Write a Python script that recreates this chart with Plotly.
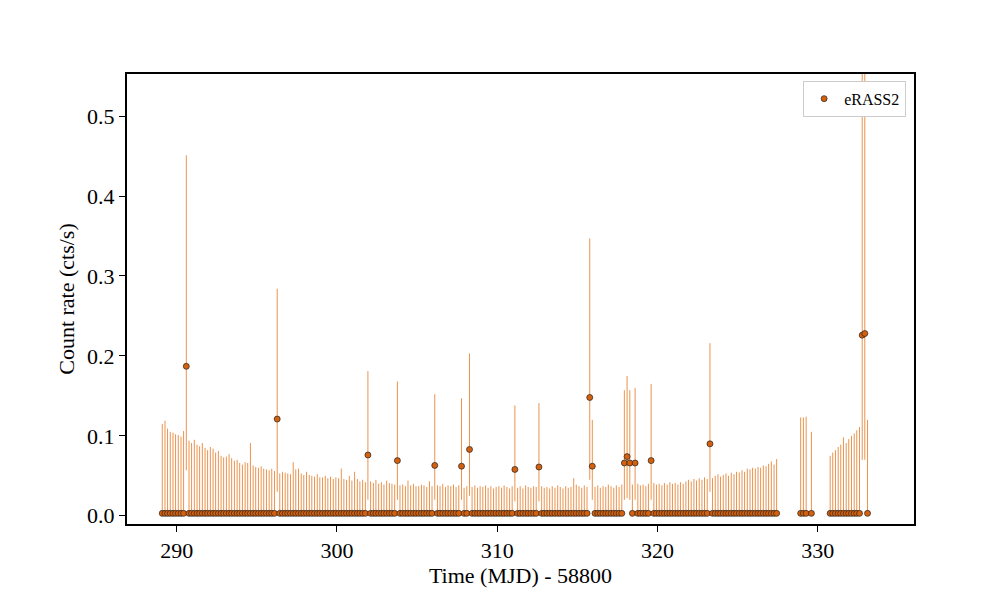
import plotly.graph_objects as go

# --- data: eRASS2 light curve (count rate, asymmetric errors) ---
# background scans (rate at floor, upper error only), 6 scans per day
scan_time = [
    289.10, 289.27, 289.43, 289.60, 289.77, 289.93, 290.10, 290.27, 290.43, 290.60, 290.77, 290.93,
    291.10, 291.27, 291.43, 291.60, 291.77, 291.93, 292.10, 292.27, 292.43, 292.60, 292.77, 292.93,
    293.10, 293.27, 293.43, 293.60, 293.77, 293.93, 294.10, 294.27, 294.43, 294.60, 294.77, 294.93,
    295.10, 295.27, 295.43, 295.60, 295.77, 295.93, 296.10, 296.27, 296.43, 296.60, 296.77, 296.93,
    297.10, 297.27, 297.43, 297.60, 297.77, 297.93, 298.10, 298.27, 298.43, 298.60, 298.77, 298.93,
    299.10, 299.27, 299.43, 299.60, 299.77, 299.93, 300.10, 300.27, 300.43, 300.60, 300.77, 300.93,
    301.10, 301.27, 301.43, 301.60, 301.77, 301.93, 302.10, 302.27, 302.43, 302.60, 302.77, 302.93,
    303.10, 303.27, 303.43, 303.60, 303.77, 303.93, 304.10, 304.27, 304.43, 304.60, 304.77, 304.93,
    305.10, 305.27, 305.43, 305.60, 305.77, 305.93, 306.10, 306.27, 306.43, 306.60, 306.77, 306.93,
    307.10, 307.27, 307.43, 307.60, 307.77, 307.93, 308.10, 308.27, 308.43, 308.60, 308.77, 308.93,
    309.10, 309.27, 309.43, 309.60, 309.77, 309.93, 310.10, 310.27, 310.43, 310.60, 310.77, 310.93,
    311.10, 311.27, 311.43, 311.60, 311.77, 311.93, 312.10, 312.27, 312.43, 312.60, 312.77, 312.93,
    313.10, 313.27, 313.43, 313.60, 313.77, 313.93, 314.10, 314.27, 314.43, 314.60, 314.77, 314.93,
    315.10, 315.27, 315.43, 315.60, 315.77, 315.93, 316.10, 316.27, 316.43, 316.60, 316.77, 316.93,
    317.10, 317.27, 317.43, 317.60, 317.77, 317.93, 318.10, 318.27, 318.43, 318.60, 318.77, 318.93,
    319.10, 319.27, 319.43, 319.60, 319.77, 319.93, 320.10, 320.27, 320.43, 320.60, 320.77, 320.93,
    321.10, 321.27, 321.43, 321.60, 321.77, 321.93, 322.10, 322.27, 322.43, 322.60, 322.77, 322.93,
    323.10, 323.27, 323.43, 323.60, 323.77, 323.93, 324.10, 324.27, 324.43, 324.60, 324.77, 324.93,
    325.10, 325.27, 325.43, 325.60, 325.77, 325.93, 326.10, 326.27, 326.43, 326.60, 326.77, 326.93,
    327.10, 327.27, 327.43,
    328.93, 329.10, 329.27, 329.60,
    330.77, 330.93, 331.10, 331.27, 331.43, 331.60, 331.77, 331.93, 332.10, 332.27, 332.43, 332.60,
    333.10,
]
scan_err_hi = [
    .112, .116, .106, .102, .101, .099, .098, .096, .103, .095, .091, .088,
    .092, .086, .084, .088, .082, .079, .083, .081, .076, .078, .072, .070,
    .071, .074, .069, .066, .067, .063, .061, .064, .063, .088, .060, .058,
    .057, .059, .056, .055, .054, .056, .053, .055, .050, .052, .051, .050,
    .049, .064, .055, .056, .050, .048, .052, .048, .047, .046, .049, .045,
    .045, .047, .044, .046, .043, .045, .044, .056, .043, .042, .047, .041,
    .052, .043, .040, .042, .039, .041, .040, .038, .042, .037, .039, .036,
    .041, .038, .037, .036, .039, .035, .036, .034, .041, .035, .037, .034,
    .034, .036, .035, .033, .040, .034, .033, .035, .034, .037, .033, .035,
    .034, .036, .033, .035, .034, .032, .034, .031, .033, .035, .032, .034,
    .033, .035, .032, .034, .031, .033, .034, .032, .035, .033, .031, .034,
    .033, .032, .034, .031, .035, .033, .032, .034, .033, .031, .034, .032,
    .033, .031, .034, .032, .035, .033, .031, .034, .032, .033, .044, .036,
    .034, .032, .035, .033, .031, .034, .033, .035, .032, .034, .033, .036,
    .034, .032, .035, .033, .036, .034, .035, .033, .036, .034, .037, .035,
    .036, .034, .037, .035, .038, .036, .037, .035, .038, .036, .039, .037,
    .038, .036, .039, .037, .040, .042, .040, .043, .041, .044, .042, .045,
    .043, .046, .044, .047, .049, .046, .048, .050, .047, .051, .049, .052,
    .051, .054, .052, .056, .055, .057, .056, .058, .057, .060, .059, .062,
    .065, .061, .068,
    .120, .120, .121, .102,
    .072, .076, .079, .083, .086, .095, .088, .093, .097, .100, .104, .108,
    .117,
]
floor_rate = 0.003

# detections with two-sided errors
det_time = [290.60, 296.27, 301.93, 303.77, 306.10, 307.77, 308.27, 311.10, 312.60, 315.77,
            315.93, 317.93, 318.10, 318.27, 318.60, 319.60, 323.27, 332.77, 332.93]
det_rate = [0.187, 0.121, 0.076, 0.069, 0.063, 0.062, 0.083, 0.058, 0.061, 0.148,
            0.062, 0.066, 0.074, 0.066, 0.066, 0.069, 0.090, 0.226, 0.228]
det_top = [0.451, 0.284, 0.181, 0.168, 0.152, 0.147, 0.203, 0.138, 0.141, 0.347,
           0.120, 0.157, 0.175, 0.157, 0.160, 0.165, 0.216, 0.620, 0.620]
det_bot = [0.057, 0.030, 0.020, 0.020, 0.020, 0.020, 0.025, 0.018, 0.018, 0.045,
           0.020, 0.020, 0.022, 0.020, 0.020, 0.020, 0.030, 0.070, 0.070]

# drop floor scans where a detection sits
keep = [i for i, t in enumerate(scan_time) if t not in det_time]
bg_t = [scan_time[i] for i in keep]
bg_e = [scan_err_hi[i] for i in keep]

ERR_COLOR = "#e8873a"
MARKER_COLOR = "#d4600e"
FONT = "Liberation Serif, Times New Roman, serif"

fig = go.Figure()

fig.add_trace(go.Scatter(
    x=bg_t, y=[floor_rate] * len(bg_t), mode="markers", name="eRASS2",
    legendgroup="e2", showlegend=False,
    marker=dict(size=6, color=MARKER_COLOR, line=dict(color="#222", width=0.7)),
    error_y=dict(type="data", symmetric=False, array=bg_e,
                 arrayminus=[floor_rate] * len(bg_t),
                 color=ERR_COLOR, thickness=0.9, width=0),
))

fig.add_trace(go.Scatter(
    x=det_time, y=det_rate, mode="markers", name="eRASS2", legendgroup="e2",
    marker=dict(size=6, color=MARKER_COLOR, line=dict(color="#222", width=0.7)),
    error_y=dict(type="data", symmetric=False,
                 array=[t - r for t, r in zip(det_top, det_rate)],
                 arrayminus=[r - b for r, b in zip(det_rate, det_bot)],
                 color=ERR_COLOR, thickness=0.9, width=0),
))

axis_common = dict(showline=True, linecolor="black", linewidth=2, mirror=True,
                   ticks="outside", ticklen=6, tickwidth=1, tickcolor="black",
                   showgrid=False, zeroline=False, tickfont=dict(size=22))

fig.update_layout(
    width=1000, height=600,
    paper_bgcolor="white", plot_bgcolor="white",
    font=dict(family=FONT, color="black", size=22),
    margin=dict(l=119, r=94, t=66, b=84),
    xaxis=dict(range=[286.9, 336.0], tickvals=[290, 300, 310, 320, 330],
               title=dict(text="Time (MJD) - 58800", font=dict(size=22), standoff=2),
               **axis_common),
    yaxis=dict(range=[-0.0103, 0.5527], tickvals=[0, 0.1, 0.2, 0.3, 0.4, 0.5],
               tickformat=".1f",
               title=dict(text="Count rate (cts/s)", font=dict(size=22), standoff=6),
               **axis_common),
    legend=dict(x=0.99, y=0.985, xanchor="right", yanchor="top",
                bgcolor="white", bordercolor="#cccccc", borderwidth=1,
                font=dict(size=16)),
    showlegend=True,
)

fig.write_html("out.html")
